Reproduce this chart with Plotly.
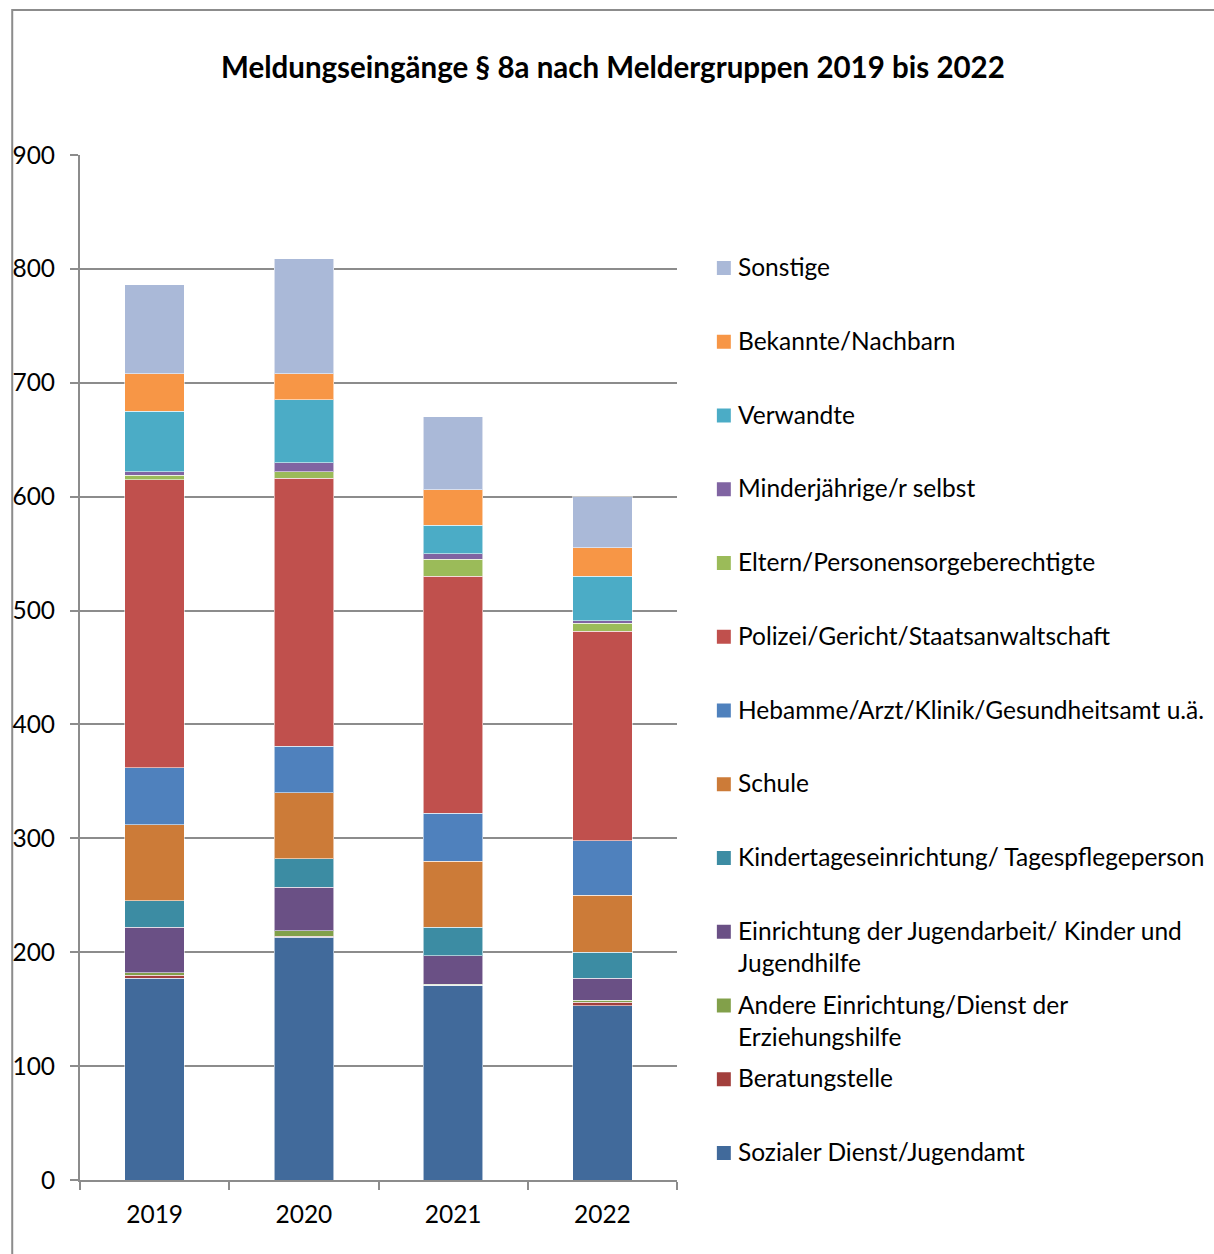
import plotly.graph_objects as go

# Reporting years
years = ["2019", "2020", "2021", "2022"]

# Reporter groups, from the bottom of the stack upward
sozial = [177, 213, 171, 153]
beratung = [3, 1, 0, 3]
andere = [2, 5, 1, 2]
jugendarbeit = [40, 38, 25, 19]
kita = [23, 25, 25, 23]
schule = [67, 58, 58, 50]
hebamme = [50, 41, 42, 48]
polizei = [253, 235, 208, 184]
eltern = [4, 6, 15, 7]
minderjaehrige = [3, 8, 5, 2]
verwandte = [53, 55, 25, 39]
bekannte = [33, 23, 31, 25]
sonstige = [78, 101, 64, 45]

series = [
    ("Sozialer Dienst/Jugendamt", sozial, "#416A9B"),
    ("Beratungstelle", beratung, "#A23F3C"),
    ("Andere Einrichtung/Dienst der<br>Erziehungshilfe", andere, "#82A04A"),
    ("Einrichtung der Jugendarbeit/ Kinder und<br>Jugendhilfe", jugendarbeit, "#6A5085"),
    ("Kindertageseinrichtung/ Tagespflegeperson", kita, "#3C8CA3"),
    ("Schule", schule, "#CC7B38"),
    ("Hebamme/Arzt/Klinik/Gesundheitsamt u.ä.", hebamme, "#4F81BD"),
    ("Polizei/Gericht/Staatsanwaltschaft", polizei, "#C0504D"),
    ("Eltern/Personensorgeberechtigte", eltern, "#9BBB59"),
    ("Minderjährige/r selbst", minderjaehrige, "#8064A2"),
    ("Verwandte", verwandte, "#4BACC6"),
    ("Bekannte/Nachbarn", bekannte, "#F79646"),
    ("Sonstige", sonstige, "#AAB9D8"),
]

FONT = "Lato"
TXT = 24.5
W, H = 1214, 1254
L, R, T, B = 78, 537, 155, 74
pw, ph = W - L - R, H - T - B


def px_x(p):
    return (p - L) / pw


def px_y(p):
    return (H - B - p) / ph


fig = go.Figure()
for name, vals, color in series:
    fig.add_trace(go.Bar(
        x=years, y=vals, name=name, width=0.4,
        marker=dict(color=color, line=dict(color="rgba(255,255,255,0.55)", width=1)),
        showlegend=False,
    ))

shapes = []
annotations = []

# Legend drawn as a fixed-pitch list, top entry = top of stack
legend_top = 268
legend_step = 73.75
for i, (name, vals, color) in enumerate(reversed(series)):
    yc = legend_top + i * legend_step
    shapes.append(dict(
        type="rect", xref="paper", yref="paper",
        x0=px_x(717), x1=px_x(731), y0=px_y(yc + 7), y1=px_y(yc - 7),
        fillcolor=color, line=dict(width=0),
    ))
    annotations.append(dict(
        text=name, xref="paper", yref="paper",
        x=px_x(736), y=px_y(yc - 18), xanchor="left", yanchor="top",
        align="left", showarrow=False,
        font=dict(family=FONT, size=TXT, color="#000000"),
    ))

# Chart title
annotations.append(dict(
    text="<b>Meldungseingänge § 8a nach Meldergruppen 2019 bis 2022</b>",
    xref="paper", yref="paper", x=px_x(613), y=px_y(67),
    xanchor="center", yanchor="middle", showarrow=False,
    font=dict(family=FONT, size=29.5, color="#000000"),
))

# Outer chart frame
shapes.append(dict(
    type="rect", xref="paper", yref="paper",
    x0=px_x(10), x1=px_x(1230), y0=px_y(1270), y1=px_y(10),
    line=dict(color="#8C8C8C", width=2), fillcolor="rgba(0,0,0,0)",
    layer="below",
))

fig.update_layout(
    width=W, height=H,
    margin=dict(l=L, r=R, t=T, b=B, pad=0),
    barmode="stack",
    plot_bgcolor="white", paper_bgcolor="white",
    font=dict(family=FONT, size=TXT, color="#000000"),
    shapes=shapes, annotations=annotations,
    showlegend=False,
)
fig.update_xaxes(
    type="category", tickson="boundaries", ticks="outside", ticklen=8,
    tickcolor="#8C8C8C", tickwidth=1.5,
    showline=True, linecolor="#8C8C8C", linewidth=2,
    showgrid=False, tickfont=dict(family=FONT, size=TXT),
    ticklabelstandoff=12,
)
fig.update_yaxes(
    range=[0, 900], dtick=100, ticks="outside", ticklen=8,
    tickcolor="#8C8C8C", tickwidth=2,
    showline=True, linecolor="#8C8C8C", linewidth=2,
    showgrid=True, gridcolor="#8C8C8C", gridwidth=2,
    zeroline=False, ticklabelstandoff=10,
    tickfont=dict(family=FONT, size=TXT),
)

fig.write_html("out.html")
